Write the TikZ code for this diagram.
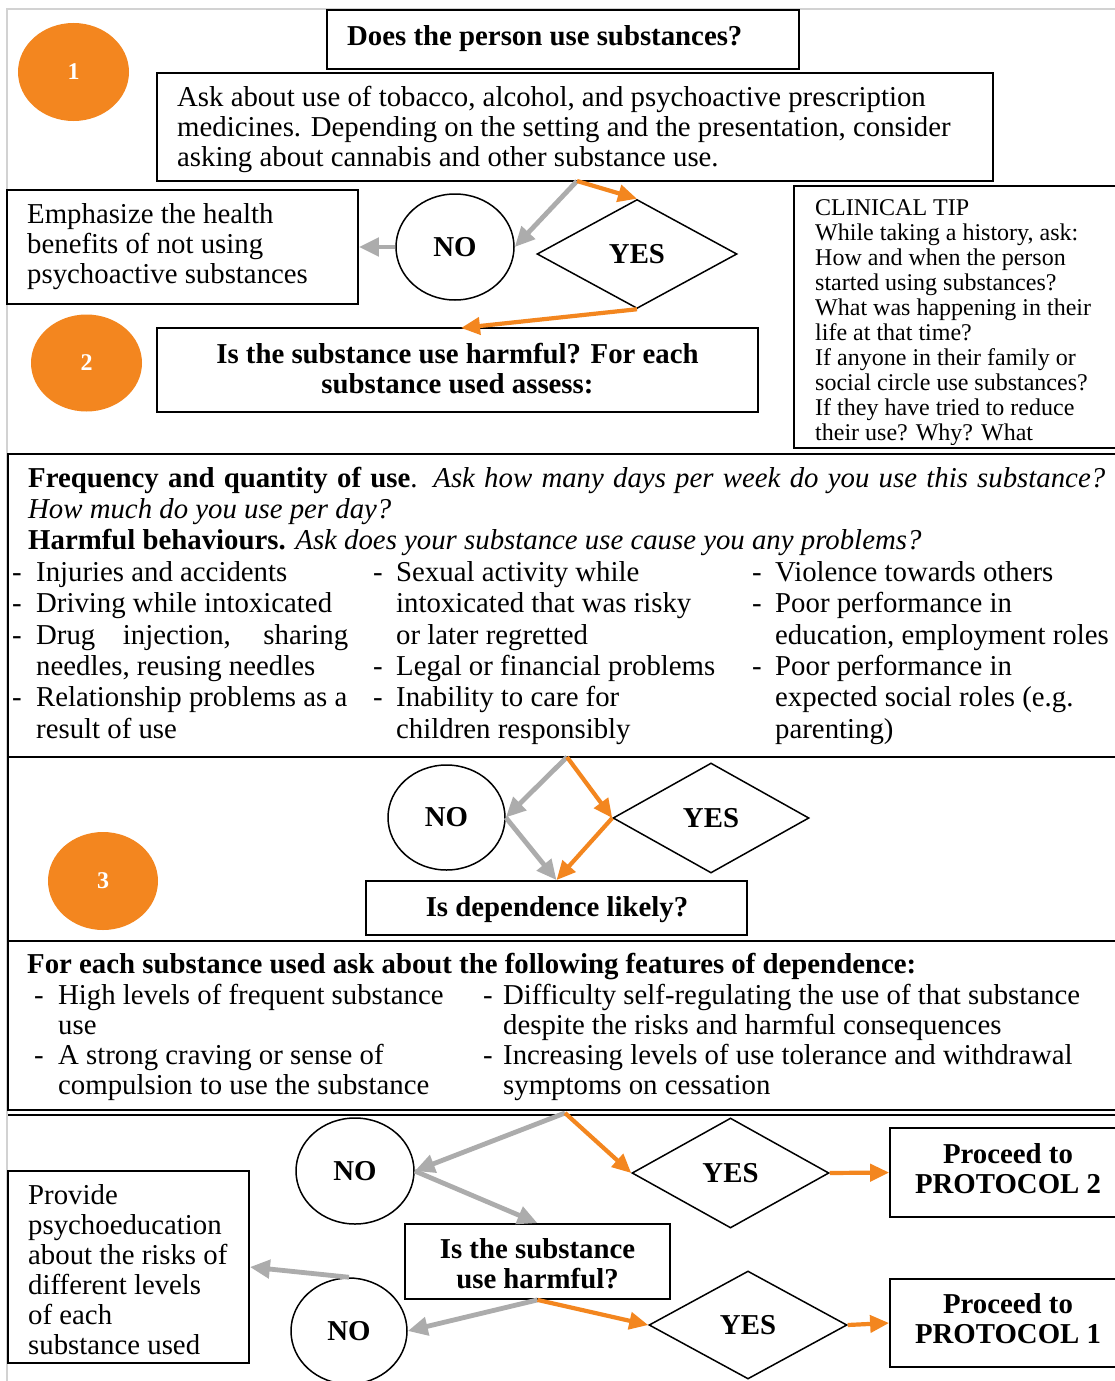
\documentclass[tikz,border=0pt]{standalone}
\usepackage{fontspec}
\setmainfont{Liberation Serif}
\usetikzlibrary{shapes.geometric,arrows.meta,fit}

\definecolor{flowOrange}{RGB}{243,134,31}
\definecolor{flowGray}{RGB}{172,172,172}
\definecolor{frameGray}{RGB}{210,210,210}

\newcommand\bodysize{\fontsize{28.8}{30}\selectfont}
\newcommand\listsize{\fontsize{28.8}{31.35}\selectfont}
\newcommand\tipsize{\fontsize{24}{25}\selectfont}

\begin{document}
\begin{tikzpicture}[x=1pt,y=-1pt,
  box/.style={draw=black, line width=1.8pt, rectangle, inner sep=0pt},
  badge/.style={ellipse, fill=flowOrange, draw=none, inner sep=0pt,
                text=white, font=\fontsize{24}{24}\selectfont\bfseries},
  choice/.style={ellipse, draw=black, line width=1.5pt, inner sep=0pt,
                 font=\bodysize\bfseries},
  answer/.style={diamond, draw=black, line width=1.5pt, inner sep=0pt,
                 aspect=1.8, font=\bodysize\bfseries},
  txt/.style={inner sep=0pt, font=\bodysize},
  yesflow/.style={draw=flowOrange, line width=4.2pt,
                  -{Triangle[length=19pt,width=17pt]}},
  noflow/.style={draw=flowGray, line width=4.8pt,
                 -{Triangle[length=20pt,width=18pt]}},
]
\useasboundingbox (0,0) rectangle (1115,1381);
\clip (0,0) rectangle (1115,1381);
\fill[white] (0,0) rectangle (1115,1381);

% ---- panel frames ----
\draw[frameGray, line width=1.2pt] (7,1381) -- (7,9) -- (1115,9);
\draw[line width=2pt] (8,454) rectangle (1125,757);
\draw[line width=1.5pt] (8,757) -- (8,941);
\draw[line width=2pt] (8,941) rectangle (1125,1110);
\draw[line width=1.5pt] (8,1115) -- (1125,1115);

% ---- step 1 ----
\node[badge, minimum width=111pt, minimum height=98pt] (one) at (73.5,72) {1};
\node[box, fit={(327,10) (799,69)}] (does) {};
\node[txt, anchor=base west, font=\bodysize\bfseries] (doesT) at (347,46)
  {Does the person use substances?};
\node[box, fit={(157,73) (993,181)}] (ask) {};
\node[txt, anchor=base west] (askT) at (177,106)
  {\begin{tabular}[t]{@{}l@{}}
   Ask about use of tobacco, alcohol, and psychoactive prescription\\
   medicines. Depending on the setting and the presentation, consider\\
   asking about cannabis and other substance use.
   \end{tabular}};
\node[box, fit={(7,190) (358,304)}] (emph) {};
\node[txt, anchor=base west] (emphT) at (27,223)
  {\begin{tabular}[t]{@{}l@{}}
   Emphasize the health\\ benefits of not using\\ psychoactive substances
   \end{tabular}};
\node[choice, minimum width=118pt, minimum height=106pt] (no1) at (455,247) {NO};
\node[answer, minimum width=200pt, minimum height=109pt] (yes1) at (637,254) {YES};

% clinical tip
\node[box, fit={(794,186) (1125,448)}] (tip) {};
\begin{scope}
  \clip (796,188) rectangle (1115,444);
  \node[inner sep=0pt, anchor=base west, font=\tipsize] (tipT) at (815,215)
    {\begin{tabular}[t]{@{}l@{}}
     CLINICAL TIP\\
     While taking a history, ask:\\
     How and when the person\\
     started using substances?\\
     What was happening in their\\
     life at that time?\\
     If anyone in their family or\\
     social circle use substances?\\
     If they have tried to reduce\\
     their use? Why? What
     \end{tabular}};
\end{scope}

% ---- step 2 ----
\node[badge, minimum width=111pt, minimum height=97pt] (two) at (86.5,363) {2};
\node[box, fit={(157,328) (758,412)}] (harmQ) {};
\node[txt, anchor=base, font=\bodysize\bfseries] (harmQT) at (457.5,363)
  {\begin{tabular}[t]{@{}c@{}}
   Is the substance use harmful? For each\\ substance used assess:
   \end{tabular}};

\coordinate (split1) at (577,181);
\coordinate (into2) at (461,328);
\draw[noflow] (split1) -- (no1.east);
\draw[yesflow] (split1) -- (yes1.north);
\draw[noflow] (no1.west) -- (emph.east);
\draw[yesflow] (yes1.south) -- (into2);

% frequency and harmful behaviours
\node[txt, anchor=base west, font=\listsize] (freqT) at (28,487)
  {\begin{tabular}[t]{@{}l@{}}
   \makebox[1077pt][s]{\textbf{Frequency and quantity of use}. \textit{Ask how many days per week do you use this substance?}}\\
   \textit{How much do you use per day?}\\
   \textbf{Harmful behaviours.} \textit{Ask does your substance use cause you any problems?}
   \end{tabular}};
\node[txt, anchor=base west, font=\listsize] (colA) at (12,581.5)
  {\begin{tabular}[t]{@{}p{24pt}@{}l@{}}
   - & Injuries and accidents\\
   - & Driving while intoxicated\\
   - & \makebox[312pt][s]{Drug injection, sharing}\\
     & needles, reusing needles\\
   - & Relationship problems as a\\
     & result of use
   \end{tabular}};
\node[txt, anchor=base west, font=\listsize] (colB) at (373,581.5)
  {\begin{tabular}[t]{@{}p{23pt}@{}l@{}}
   - & Sexual activity while\\
     & intoxicated that was risky\\
     & or later regretted\\
   - & Legal or financial problems\\
   - & Inability to care for\\
     & children responsibly
   \end{tabular}};
\node[txt, anchor=base west, font=\listsize] (colC) at (752,581.5)
  {\begin{tabular}[t]{@{}p{23pt}@{}l@{}}
   - & Violence towards others\\
   - & Poor performance in\\
     & education, employment roles\\
   - & Poor performance in\\
     & expected social roles (e.g.\\
     & parenting)
   \end{tabular}};

% ---- step 3 ----
\node[badge, minimum width=110pt, minimum height=98pt] (three) at (103,881) {3};
\node[choice, minimum width=117pt, minimum height=105pt] (no2) at (446.5,817.5) {NO};
\node[answer, minimum width=196pt, minimum height=110pt] (yes2) at (711,818) {YES};
\node[box, fit={(366,881) (747,935)}] (depQ) {};
\node[txt, anchor=base, font=\bodysize\bfseries] (depQT) at (557,916) {Is dependence likely?};

\coordinate (split2) at (567,757);
\draw[noflow] (split2) -- (no2.east);
\draw[yesflow] (split2) -- (yes2.west);
\draw[noflow] (no2.east) -- (depQ.north);
\draw[yesflow] (yes2.west) -- (depQ.north);

% features of dependence
\node[txt, anchor=base west, font=\bodysize\bfseries] (featT) at (27,973)
  {For each substance used ask about the following features of dependence:};
\node[txt, anchor=base west] (featA) at (34,1004)
  {\begin{tabular}[t]{@{}p{24pt}@{}l@{}}
   - & High levels of frequent substance\\
     & use\\
   - & A strong craving or sense of\\
     & compulsion to use the substance
   \end{tabular}};
\node[txt, anchor=base west] (featB) at (483,1004)
  {\begin{tabular}[t]{@{}p{20pt}@{}l@{}}
   - & Difficulty self-regulating the use of that substance\\
     & despite the risks and harmful consequences\\
   - & Increasing levels of use tolerance and withdrawal\\
     & symptoms on cessation
   \end{tabular}};

% ---- step 4 ----
\node[choice, minimum width=118pt, minimum height=106pt] (no3) at (355,1171) {NO};
\node[answer, minimum width=197pt, minimum height=110pt] (yes3) at (730.5,1173) {YES};
\node[box, fit={(890,1128) (1125,1217)}] (prot2) {};
\node[txt, anchor=base, font=\bodysize\bfseries] (prot2T) at (1008,1163)
  {\begin{tabular}[t]{@{}c@{}}Proceed to\\ PROTOCOL 2\end{tabular}};
\node[box, fit={(405,1224) (670,1299)}] (harm2) {};
\node[txt, anchor=base, font=\bodysize\bfseries] (harm2T) at (537.5,1258)
  {\begin{tabular}[t]{@{}c@{}}Is the substance\\ use harmful?\end{tabular}};
\node[box, fit={(8,1171) (249,1363)}] (prov) {};
\node[txt, anchor=base west] (provT) at (28,1204)
  {\begin{tabular}[t]{@{}l@{}}
   Provide\\ psychoeducation\\ about the risks of\\ different levels\\ of each\\ substance used
   \end{tabular}};
\node[choice, minimum width=116pt, minimum height=106pt] (no4) at (349,1331) {NO};
\node[answer, minimum width=198pt, minimum height=108pt] (yes4) at (748,1325) {YES};
\node[box, fit={(890,1279) (1125,1367)}] (prot1) {};
\node[txt, anchor=base, font=\bodysize\bfseries] (prot1T) at (1008,1313)
  {\begin{tabular}[t]{@{}c@{}}Proceed to\\ PROTOCOL 1\end{tabular}};

\coordinate (split3) at (565,1113);
\draw[noflow] (split3) -- (no3.east);
\draw[yesflow] (split3) -- (yes3.west);
\draw[noflow] (no3.east) -- (harm2.north);
\draw[yesflow] (yes3.east) -- (prot2.west);
\draw[noflow] (no4.north) -- (prov.east);
\draw[noflow] (harm2.south) -- (no4.east);
\draw[yesflow] (harm2.south) -- (yes4.west);
\draw[yesflow] (yes4.east) -- (prot1.west);
\end{tikzpicture}
\end{document}
